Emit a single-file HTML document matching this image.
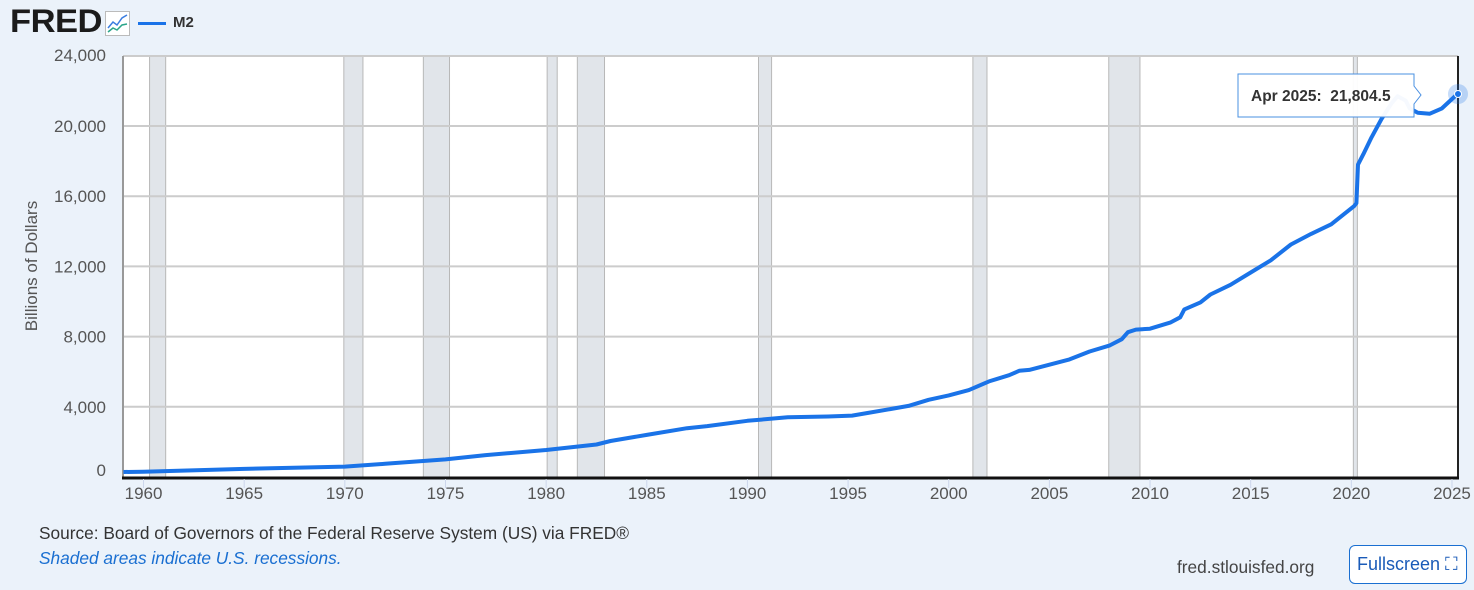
<!DOCTYPE html>
<html><head><meta charset="utf-8"><style>
body{margin:0;width:1474px;height:590px;background:#ebf2fa;font-family:"Liberation Sans",sans-serif;position:relative;overflow:hidden}
.a{position:absolute;white-space:nowrap}
</style></head><body>
<div class="a" style="left:10px;top:3px;font-size:32px;font-weight:bold;color:#1b1b1b;letter-spacing:-0.5px;transform:scaleX(1.08);transform-origin:left">FRED</div>
<svg class="a" style="left:105px;top:11px" width="25" height="25"><rect x="0.5" y="0.5" width="24" height="24" fill="#fff" stroke="#bbb"/><polyline points="3,17 8,11 12,14 17,7 22,4" fill="none" stroke="#3b7de0" stroke-width="1.5"/><polyline points="3,21 8,17 12,19 17,14 22,13" fill="none" stroke="#2aa58a" stroke-width="1.5"/></svg>
<div class="a" style="left:138px;top:22px;width:28px;height:3px;background:#1a73e8"></div>
<div class="a" style="left:173px;top:14px;font-size:15px;font-weight:bold;color:#333">M2</div>
<svg class="a" style="left:0;top:0" width="1474" height="590" id="s">
<rect x="123" y="56" width="1335" height="421" fill="#fff"/>
<g id="rec" fill="#e1e5ea" stroke="#b8b8b8"></g>
<g stroke="#cccccc" stroke-width="2" id="grid"></g>
<line x1="123" y1="56" x2="1458" y2="56" stroke="#ccc" stroke-width="2"/>
<line x1="123" y1="56" x2="123" y2="478" stroke="#999" stroke-width="2"/>
<line x1="1458" y1="56" x2="1458" y2="478" stroke="#222" stroke-width="2"/>
<line x1="122" y1="478" x2="1459" y2="478" stroke="#111" stroke-width="3"/>
<g id="xt" stroke="#ccd6eb"></g>
<path id="ln" fill="none" stroke="#1a73e8" stroke-width="4" stroke-linejoin="round"/>
<circle cx="1458" cy="94" r="10" fill="#1a73e8" fill-opacity="0.25"/>
<circle cx="1458" cy="94" r="3.5" fill="#1a73e8" stroke="#fff" stroke-width="1"/>
<g font-size="17" fill="#555" text-anchor="end" id="yl"></g>
<g font-size="17" fill="#555" text-anchor="middle" id="xl"></g>
<text x="37" y="266" font-size="17" fill="#555" text-anchor="middle" transform="rotate(-90 37 266)">Billions of Dollars</text>
<path d="M1238,74 H1414 V86 L1421,95 L1414,104 V117 H1238 Z" fill="#fff" fill-opacity="0.96" stroke="#4a90e2" stroke-width="1"/>
<text x="1251" y="101" font-size="15.5" font-weight="bold" fill="#333" xml:space="preserve">Apr 2025:  21,804.5</text>
</svg>
<div class="a" style="left:39px;top:523px;font-size:17.3px;color:#333">Source: Board of Governors of the Federal Reserve System (US) via FRED®</div>
<div class="a" style="left:39px;top:548px;font-size:17.3px;color:#1a6fd1;font-style:italic">Shaded areas indicate U.S. recessions.</div>
<div class="a" style="left:1177px;top:557px;font-size:17.3px;color:#444">fred.stlouisfed.org</div>
<div class="a" style="left:1349px;top:545px;width:118px;height:39px;box-sizing:border-box;border:1px solid #1a6fd1;border-radius:6px;background:#fff;font-size:18px;color:#1a5bb8;line-height:37px;padding-left:7px">Fullscreen ⛶</div>
<script>
var X=y=>123.4+(y-1959)*20.13, Y=v=>477-v*0.01755, ns="http://www.w3.org/2000/svg";
function el(p,t,a,tx){var e=document.createElementNS(ns,t);for(var k in a)e.setAttribute(k,a[k]);if(tx)e.textContent=tx;document.getElementById(p).appendChild(e);}
[[1960.3,1961.1],[1969.95,1970.9],[1973.9,1975.2],[1980.05,1980.55],[1981.55,1982.9],[1990.55,1991.2],[2001.2,2001.9],[2007.95,2009.5],[2020.1,2020.3]].forEach(r=>el("rec","rect",{x:X(r[0]),y:56,width:X(r[1])-X(r[0]),height:421}));
[4000,8000,12000,16000,20000].forEach(v=>el("grid","line",{x1:123,x2:1458,y1:Y(v),y2:Y(v)}));
[0,4000,8000,12000,16000,20000,24000].forEach(v=>el("yl","text",{x:106,y:(v==0?476:v==24000?61:Y(v)+6)},v.toLocaleString("en-US")));
for(var yr=1960;yr<=2025;yr+=5){el("xl","text",{x:X(yr),y:499},""+yr);el("xt","line",{x1:X(yr),x2:X(yr),y1:479,y2:488});}
var d=[[1959,286],[1960,300],[1965,460],[1970,590],[1972,750],[1975,1000],[1977,1250],[1980,1540],[1982.5,1850],[1983.2,2050],[1985,2400],[1987,2780],[1988,2900],[1990,3200],[1992,3400],[1994,3450],[1995.2,3500],[1996,3650],[1998,4050],[1999,4400],[2000,4650],[2001,4950],[2002,5450],[2003,5800],[2003.5,6050],[2004,6100],[2005,6400],[2006,6700],[2007,7150],[2008,7500],[2008.6,7850],[2008.9,8250],[2009.3,8400],[2010,8450],[2011,8800],[2011.5,9100],[2011.7,9550],[2012.5,9950],[2013,10400],[2014,10950],[2015,11650],[2016,12350],[2017,13250],[2018,13850],[2019,14400],[2020.15,15450],[2020.25,15600],[2020.33,17800],[2020.6,18400],[2021,19350],[2021.5,20400],[2022,21300],[2022.3,21700],[2022.7,21450],[2022.9,21000],[2023.3,20750],[2023.9,20700],[2024.5,21000],[2025.25,21800]];
document.getElementById("ln").setAttribute("d","M"+d.map(p=>X(p[0]).toFixed(1)+","+Y(p[1]).toFixed(1)).join(" L"));
</script>
</body></html>
